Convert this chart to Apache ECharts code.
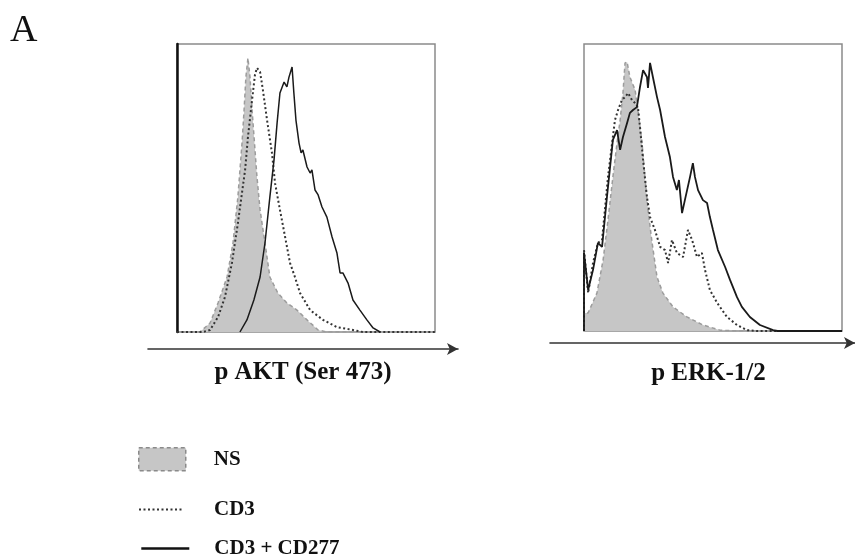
<!DOCTYPE html>
<html>
<head>
<meta charset="utf-8">
<script src="https://cdn.jsdelivr.net/npm/echarts@6/dist/echarts.min.js"></script>
<style>
html,body{margin:0;padding:0;background:#fff;}
#chart{width:855px;height:560px;}
</style>
</head>
<body>
<div id="chart"></div>
<script>
// Panel titles and series names
const panelLabels = ['p AKT (Ser 473)', 'p ERK-1/2'];
const seriesNames = ['NS', 'CD3', 'CD3 + CD277'];

// p AKT histograms: [fluorescence (% of axis), count (% of max)]
const aktNS = [[0,0],[8.9,0],[12.8,3.1],[15.9,10.1],[19.4,19.1],[21.7,30.9],[23.6,46.9],[25.2,65.6],[26.0,77.1],[26.7,88.5],[27.5,95.1],[28.3,88.5],[29.1,77.1],[31.0,53.8],[32.2,42.4],[34.1,30.9],[36.0,19.1],[39.1,13.5],[42.6,10.1],[46.5,7.6],[50.4,4.2],[54.7,0.7],[58,0],[100,0]];
const aktCD3 = [[0,0],[10,0],[12.8,0.7],[15.9,5.2],[18.6,12.2],[21.3,24.0],[23.6,37.8],[26.4,56.3],[27.5,67.7],[29.1,80.6],[30.2,89.2],[31.0,91.7],[32.2,90.3],[33.3,84.0],[34.9,73.6],[36.8,62.2],[38.0,51.7],[39.9,42.4],[41.9,33.0],[43.8,24.0],[45.7,19.1],[47.7,13.5],[51.6,7.6],[56.6,4.2],[62.0,1.7],[68.2,0.7],[72,0],[100,0]];
const aktCD277 = [[24.4,0],[27.1,4.2],[29.8,11.1],[32.2,19.1],[34.1,30.9],[36.0,46.9],[37.6,59.7],[38.8,72.6],[39.9,83.0],[41.5,86.8],[42.6,85.1],[43.4,88.5],[44.6,92.0],[45.3,83.0],[46.1,73.6],[47.3,65.6],[48.1,62.2],[48.8,63.2],[50.4,57.3],[51.6,55.2],[52.3,56.3],[53.5,49.3],[54.7,47.6],[56.2,43.4],[58.1,39.9],[60.1,33.0],[62.0,27.4],[63.2,20.5],[64.3,20.5],[66.3,17.0],[68.2,11.1],[70.9,7.6],[73.6,4.2],[76.0,1.4],[78.7,0]];

// p ERK-1/2 histograms
const erkNS = [[0,0],[0,6.3],[1.6,6.3],[5.0,13.2],[7.4,24.7],[9.3,38.7],[11.2,53.7],[12.8,65.5],[14.0,73.5],[15.1,82.9],[15.9,93.4],[16.7,93.7],[17.8,88.5],[19.8,84.0],[20.9,77.0],[22.5,65.5],[23.6,53.7],[24.8,42.2],[26.4,30.7],[28.3,18.8],[30.6,13.2],[34.5,8.4],[39.9,4.9],[46.1,2.1],[52.7,0.3],[59.3,0],[100,0]];
const erkCD3 = [[0,0],[0,28.2],[1.6,13.2],[3.5,23.7],[5.4,30.7],[7.0,31.7],[8.1,42.2],[9.3,53.7],[10.9,65.5],[12.0,73.5],[13.2,77.0],[14.7,80.5],[15.9,81.5],[17.1,82.9],[18.6,80.5],[19.8,79.4],[20.9,78.0],[21.7,71.1],[22.9,59.6],[24.4,46.7],[25.6,39.7],[27.5,35.2],[29.5,29.3],[31.4,28.2],[32.6,23.7],[34.1,31.7],[36.0,27.2],[38.4,25.8],[40.3,35.2],[41.9,31.7],[43.8,25.8],[45.7,27.2],[46.9,21.3],[48.8,14.3],[51.6,9.8],[55.4,4.9],[59.3,2.1],[63.2,0.3],[67.1,0],[100,0]];
const erkCD277 = [[0,0],[0,27.2],[1.6,14.3],[3.5,21.3],[5.4,30.7],[7.0,29.3],[8.9,46.7],[10.1,57.1],[11.2,66.6],[12.8,70.0],[14.0,63.1],[15.1,67.6],[16.7,72.5],[17.8,76.0],[19.0,77.0],[20.5,78.0],[21.7,85.0],[22.9,90.9],[24.4,88.5],[24.8,84.7],[25.6,93.4],[26.7,88.5],[28.3,81.5],[29.5,77.0],[31.4,67.6],[33.3,60.6],[34.5,53.7],[36.0,49.1],[36.8,52.6],[38.0,41.1],[39.1,45.6],[41.1,53.7],[42.2,58.5],[43.0,53.7],[44.2,49.1],[46.1,45.6],[47.7,44.6],[48.8,39.7],[50.0,35.2],[51.9,28.2],[54.7,22.3],[56.6,17.8],[59.3,11.8],[61.2,8.4],[64.3,4.9],[68.2,2.1],[73.3,0.3],[75,0],[100,0]];

const serif = 'Liberation Serif';
const NS_FILL = '#c6c6c6', NS_LINE = '#9c9c9c', DARK = '#1a1a1a';

function histAxes(i) {
  return {
    x: {type:'value', gridIndex:i, min:0, max:100, axisLine:{show:false}, axisTick:{show:false}, axisLabel:{show:false}, splitLine:{show:false}},
    y: {type:'value', gridIndex:i, min:0, max:100,
        axisLine:{show: i===0, lineStyle:{color:'#111', width:2.5}},
        axisTick:{show:false}, axisLabel:{show:false}, splitLine:{show:false}}
  };
}
function arrowAxes(i, name, gap, shift) {
  return {
    x: {type:'value', gridIndex:i, min:0, max:1, name:name, nameLocation:'middle', nameGap:gap,
        nameTextStyle:{fontFamily:serif, fontWeight:'bold', fontSize:25, color:'#111', padding:[0,0,0,shift]},
        axisLine:{show:true, symbol:['none','arrow'], symbolSize:[9,11], symbolOffset:[0,0], lineStyle:{color:'#333', width:1.6}},
        axisTick:{show:false}, axisLabel:{show:false}, splitLine:{show:false}},
    y: {type:'value', gridIndex:i, show:false}
  };
}
function nsSeries(i, data) {
  return {name:seriesNames[0], type:'line', xAxisIndex:i, yAxisIndex:i, data:data, symbol:'none',
    color:NS_FILL, itemStyle:{color:NS_FILL},
    lineStyle:{color:NS_LINE, width:1.5, type:[4,3]}, areaStyle:{color:NS_FILL, opacity:1}, z:2};
}
function cd3Series(i, data) {
  return {name:seriesNames[1], type:'line', xAxisIndex:i, yAxisIndex:i, data:data, symbol:'none',
    color:'#333', lineStyle:{color:'#333', width:2, type:[2,2.5]}, z:3};
}
function cd277Series(i, data, w) {
  return {name:seriesNames[2], type:'line', xAxisIndex:i, yAxisIndex:i, data:data, symbol:'none',
    color:DARK, lineStyle:{color:DARK, width:w}, z:4};
}

const a0 = histAxes(0), a1 = histAxes(1);
const r2 = arrowAxes(2, panelLabels[0], 11, 0), r3 = arrowAxes(3, panelLabels[1], 18, 12);

const legendText = {fontFamily:serif, fontWeight:'bold', fontSize:21, color:'#111'};

const option = {
  backgroundColor:'#fff',
  animation:false,
  title:{text:'A', left:10, top:12, padding:0, textStyle:{fontFamily:serif, fontWeight:'normal', fontSize:38, color:'#111'}},
  grid:[
    {left:177, top:44, width:258, height:288, show:true, borderColor:'#8a8a8a', borderWidth:1.5, backgroundColor:'transparent'},
    {left:584, top:44, width:258, height:287, show:true, borderColor:'#8a8a8a', borderWidth:1.5, backgroundColor:'transparent'},
    {left:148, top:348, width:310, height:1},
    {left:550, top:342, width:306, height:1}
  ],
  xAxis:[a0.x, a1.x, r2.x, r3.x],
  yAxis:[a0.y, a1.y, r2.y, r3.y],
  legend:[
    {left:138, top:447, padding:0, orient:'vertical', itemWidth:47, itemHeight:23, selectedMode:false,
     data:[{name:seriesNames[0], icon:'rect', itemStyle:{color:NS_FILL, borderColor:'#8a8a8a', borderWidth:1.5, borderType:[4,3]}}],
     textStyle:Object.assign({padding:[0,0,6,23]}, legendText)},
    {left:138, top:499, padding:0, orient:'vertical', itemWidth:45, itemHeight:14, selectedMode:false,
     data:[{name:seriesNames[1], itemStyle:{opacity:0}, lineStyle:{width:2, type:[2,2.5], color:'#333'}}],
     textStyle:Object.assign({padding:[0,0,0,25]}, legendText)},
    {left:140, top:538, padding:0, orient:'vertical', itemWidth:48, itemHeight:14, selectedMode:false,
     data:[{name:seriesNames[2], itemStyle:{opacity:0}, lineStyle:{width:2.6, color:'#111'}}],
     textStyle:Object.assign({padding:[0,0,0,20]}, legendText)}
  ],
  series:[
    nsSeries(0, aktNS), cd3Series(0, aktCD3), cd277Series(0, aktCD277, 1.5),
    nsSeries(1, erkNS), cd3Series(1, erkCD3), cd277Series(1, erkCD277, 1.8)
  ]
};

const chart = echarts.init(document.getElementById('chart'), null, {renderer:'canvas'});
chart.setOption(option);
</script>
</body>
</html>
